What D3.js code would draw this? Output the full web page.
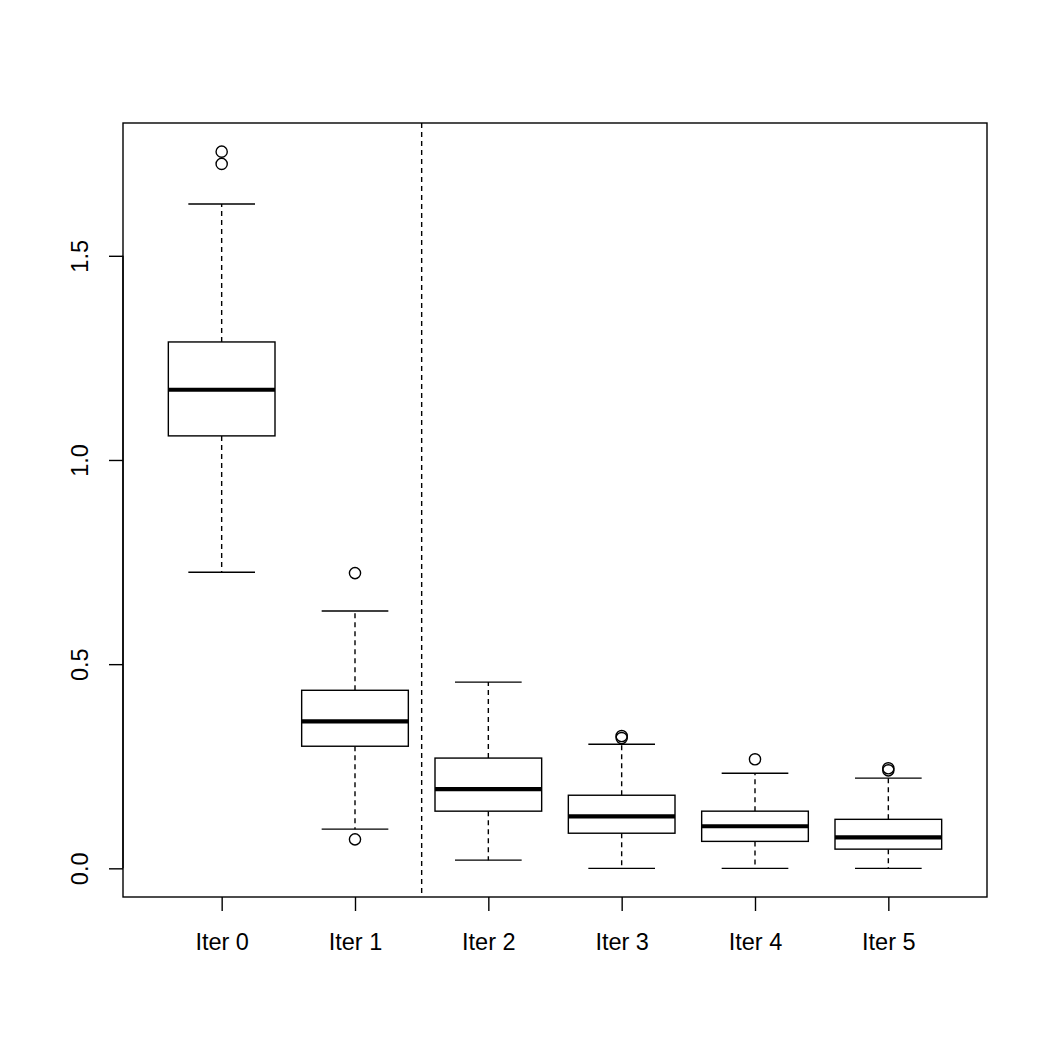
<!DOCTYPE html>
<html>
<head>
<meta charset="utf-8">
<script src="https://cdn.jsdelivr.net/npm/d3@7"></script>
<style>
  body { margin: 0; background: #fff; }
  text { font-family: "Liberation Sans", Arial, sans-serif; fill: #000; }
</style>
</head>
<body>
<svg width="1050" height="1050"></svg>
<script>
const groups = ['Iter 0', 'Iter 1', 'Iter 2', 'Iter 3', 'Iter 4', 'Iter 5'];
const lowWhisker = [0.725, 0.096, 0.020, 0.0, 0.0, 0.0];
const q1 = [1.059, 0.299, 0.140, 0.086, 0.066, 0.047];
const medians = [1.172, 0.360, 0.194, 0.127, 0.103, 0.076];
const q3 = [1.289, 0.436, 0.270, 0.179, 0.140, 0.120];
const highWhisker = [1.627, 0.630, 0.456, 0.304, 0.233, 0.221];
const outliers = [
  [1.755, 1.725],
  [0.723, 0.071],
  [],
  [0.324, 0.319],
  [0.267],
  [0.245, 0.240]
];
const yTicks = [0, 0.5, 1.0, 1.5];
const splitAt = 2.5;

const svg = d3.select('svg');
const plotLeft = 123, plotRight = 987, plotTop = 123, plotBottom = 897;

const x = d3.scaleLinear().domain([0.26, 6.74]).range([plotLeft, plotRight]);
const y = d3.scaleLinear().domain([-0.0702, 1.8252]).range([plotBottom, plotTop]);

const boxW = 0.8 * (x(2) - x(1));
const capW = 0.5 * (x(2) - x(1));

const g = svg.append('g');

groups.forEach((name, i) => {
  const cx = x(i + 1);
  // whiskers
  g.append('line')
    .attr('x1', cx).attr('x2', cx)
    .attr('y1', y(q3[i])).attr('y2', y(highWhisker[i]))
    .attr('stroke', 'black').attr('stroke-width', 1.4)
    .attr('stroke-dasharray', '5,4');
  g.append('line')
    .attr('x1', cx).attr('x2', cx)
    .attr('y1', y(q1[i])).attr('y2', y(lowWhisker[i]))
    .attr('stroke', 'black').attr('stroke-width', 1.4)
    .attr('stroke-dasharray', '5,4');
  // caps
  [lowWhisker[i], highWhisker[i]].forEach(v => {
    g.append('line')
      .attr('x1', cx - capW / 2).attr('x2', cx + capW / 2)
      .attr('y1', y(v)).attr('y2', y(v))
      .attr('stroke', 'black').attr('stroke-width', 1.4);
  });
  // box
  g.append('rect')
    .attr('x', cx - boxW / 2)
    .attr('y', y(q3[i]))
    .attr('width', boxW)
    .attr('height', y(q1[i]) - y(q3[i]))
    .attr('fill', 'white')
    .attr('stroke', 'black').attr('stroke-width', 1.4);
  // median
  g.append('line')
    .attr('x1', cx - boxW / 2).attr('x2', cx + boxW / 2)
    .attr('y1', y(medians[i])).attr('y2', y(medians[i]))
    .attr('stroke', 'black').attr('stroke-width', 4.2);
  // outliers
  g.selectAll(null)
    .data(outliers[i])
    .enter().append('circle')
    .attr('cx', cx)
    .attr('cy', d => y(d))
    .attr('r', 5.6)
    .attr('fill', 'none')
    .attr('stroke', 'black').attr('stroke-width', 1.4);
});

// dashed separator
svg.append('line')
  .attr('x1', x(splitAt)).attr('x2', x(splitAt))
  .attr('y1', plotTop).attr('y2', plotBottom)
  .attr('stroke', 'black').attr('stroke-width', 1.4)
  .attr('stroke-dasharray', '5,4');

// frame
svg.append('rect')
  .attr('x', plotLeft).attr('y', plotTop)
  .attr('width', plotRight - plotLeft).attr('height', plotBottom - plotTop)
  .attr('fill', 'none')
  .attr('stroke', 'black').attr('stroke-width', 1.4);

// x axis
const xAxis = svg.append('g')
  .attr('transform', `translate(0,${plotBottom})`)
  .call(d3.axisBottom(x)
    .tickValues(d3.range(1, groups.length + 1))
    .tickFormat(d => groups[d - 1])
    .tickSize(14).tickPadding(22));
xAxis.select('.domain').remove();
xAxis.selectAll('line').attr('stroke-width', 1.4);
xAxis.selectAll('text').style('font-size', '23.5px')
  .style('font-family', '"Liberation Sans", Arial, sans-serif');

// y axis
const yAxis = svg.append('g')
  .attr('transform', `translate(${plotLeft},0)`)
  .call(d3.axisLeft(y)
    .tickValues(yTicks)
    .tickFormat(d3.format('.1f'))
    .tickSize(14));
yAxis.select('.domain')
  .attr('d', `M0,${y(yTicks[0])}V${y(yTicks[yTicks.length - 1])}`)
  .attr('stroke-width', 1.4);
yAxis.selectAll('line').attr('stroke-width', 1.4);
yAxis.selectAll('text')
  .attr('x', null).attr('dy', null)
  .attr('transform', 'translate(-35,0) rotate(-90)')
  .attr('text-anchor', 'middle')
  .attr('dominant-baseline', 'auto')
  .style('font-size', '23.5px')
  .style('font-family', '"Liberation Sans", Arial, sans-serif');
</script>
</body>
</html>
